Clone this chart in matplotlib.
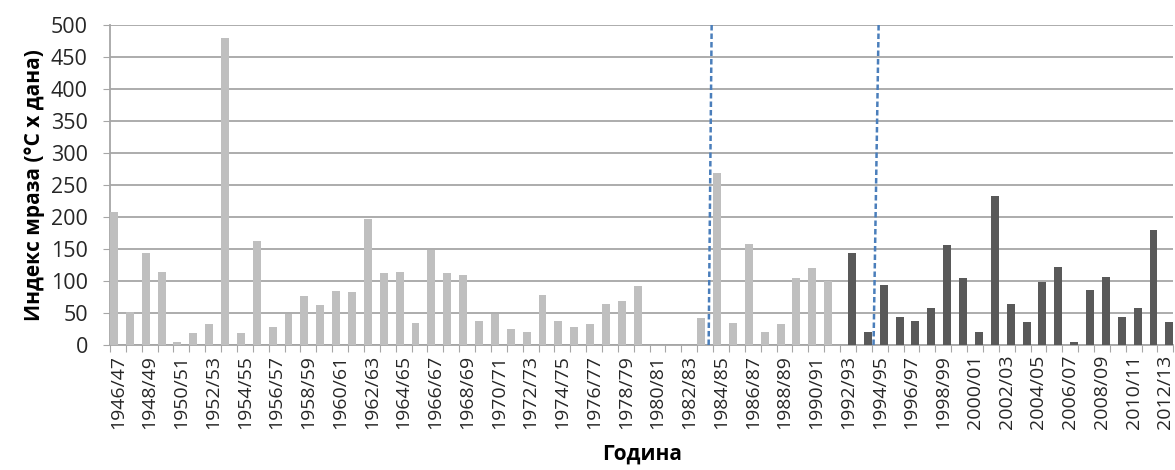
import numpy as np
import matplotlib
matplotlib.use("Agg")
import matplotlib.pyplot as plt

plt.rcParams['font.family'] = ['Open Sans', 'Noto Sans', 'DejaVu Sans']

# seasons 1946/47 .. 2012/13
seasons = ["%d/%02d" % (y, (y + 1) % 100) for y in range(1946, 2013)]

# light bars: 1946/47 .. 1991/92
frost_old = [208, 52, 144, 114, 4, 18, 32, 479, 18, 162,
             28, 49, 76, 62, 84, 82, 196, 112, 114, 34,
             149, 112, 110, 38, 49, 25, 20, 78, 38, 28,
             32, 64, 68, 92, 0, 0, 0, 42, 268, 34,
             158, 20, 32, 104, 120, 100]
# dark bars: 1992/93 .. 2012/13
frost_new = [144, 20, 94, 44, 38, 58, 156, 104, 20, 233,
             64, 36, 99, 122, 4, 86, 106, 44, 58, 180, 36]

# dashed marker lines (x at top, x at bottom, in category units)
marker_lines = [(37.41, 37.22), (47.93, 47.61)]

n = len(seasons)
x_old = np.arange(len(frost_old))
x_new = np.arange(len(frost_old), n)

fig = plt.figure(figsize=(11.75, 4.7), dpi=100)
ax = fig.add_axes([0.0936, 0.266, 0.905, 0.6814])

ax.bar(x_old - 0.5, frost_old, width=0.5, align='edge', color='#BFBFBF', zorder=3)
ax.bar(x_new, frost_new, width=0.5, align='edge', color='#595959', zorder=3)

for xt, xb in marker_lines:
    ax.plot([xb, xt], [0, 500], color='#4A7EBB', lw=1.8, ls=(0, (2.2, 1.2)), zorder=4,
            clip_on=False)

ax.set_xlim(-0.5, n - 0.5)
ax.set_ylim(0, 500)
ax.set_yticks(np.arange(0, 501, 50))
ax.yaxis.grid(True, color='#A6A6A6', lw=1.3, zorder=0)
ax.set_axisbelow(True)

# boundary ticks (major, no labels) and labels on every other category (minor)
ax.set_xticks(np.arange(n + 1) - 0.5)
ax.set_xticklabels([])
ax.set_xticks(np.arange(0, n, 2), minor=True)
ax.set_xticklabels(seasons[::2], minor=True, rotation=90, fontsize=14)
ax.tick_params(axis='x', which='major', length=5, color='#A6A6A6', direction='out')
ax.tick_params(axis='x', which='minor', length=0, pad=7, colors='#262626')
ax.tick_params(axis='y', length=5, color='#A6A6A6', labelsize=15.5, pad=11,
               labelcolor='#262626')

for s in ['top', 'right']:
    ax.spines[s].set_visible(False)
for s in ['left', 'bottom']:
    ax.spines[s].set_color('#A6A6A6')
    ax.spines[s].set_linewidth(1.3)

ax.set_ylabel('Индекс мраза (°C x дана)', fontsize=15, fontweight='bold', labelpad=4)
ax.set_xlabel('Година', fontsize=15, fontweight='bold', labelpad=10)

fig.savefig('out.png', dpi=100)
